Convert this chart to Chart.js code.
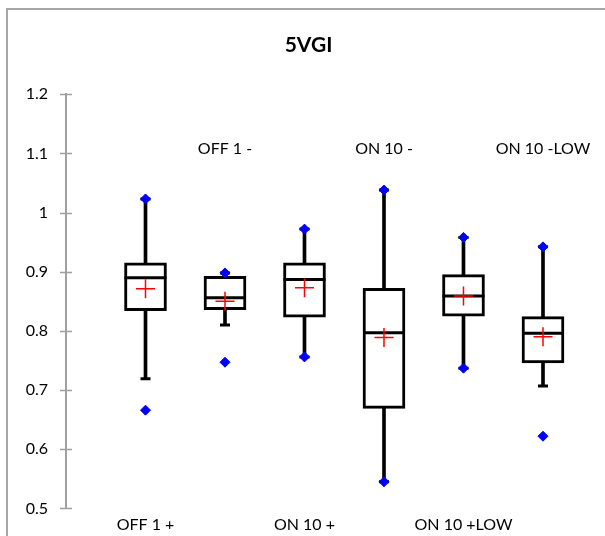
<!DOCTYPE html>
<html>
<head>
<meta charset="utf-8">
<script src="https://cdn.jsdelivr.net/npm/chart.js@4.4.1/dist/chart.umd.min.js"></script>
<style>
  html, body { margin: 0; padding: 0; background: #fff; overflow: hidden; }
  #wrap { width: 605px; height: 536px; }
</style>
</head>
<body>
<div id="wrap"><canvas id="boxChart" width="605" height="536"></canvas></div>
<script>
const categories = ['OFF 1 +', 'OFF 1 -', 'ON 10 +', 'ON 10 -', 'ON 10 +LOW', 'ON 10 -LOW'];
const maxVals     = [1.023, 0.898, 0.972, 1.038, 0.958, 0.942];
const q3Vals      = [0.915, 0.892, 0.915, 0.872, 0.895, 0.824];
const medianVals  = [0.890, 0.856, 0.887, 0.797, 0.859, 0.796];
const meanVals    = [0.871, 0.850, 0.873, 0.789, 0.859, 0.790];
const q1Vals      = [0.834, 0.836, 0.823, 0.669, 0.825, 0.746];
const whiskerLow  = [0.719, 0.810, 0.756, 0.545, 0.737, 0.707];
const whiskerHigh = [1.023, 0.898, 0.972, 1.038, 0.958, 0.942];
const minVals     = [0.666, 0.747, 0.756, 0.545, 0.737, 0.622];
const yTicks = [0.5, 0.6, 0.7, 0.8, 0.9, 1, 1.1, 1.2];
const labelLevel = 1.107; // height of the in-plot category names

const FONT = 'Lato, "Open Sans", sans-serif';
const pos = categories.map((c, i) => i + 1);
const pts = vals => vals.map((v, i) => ({ x: pos[i], y: v }));
const spans = (lo, hi) => lo.map((v, i) => ({ x: pos[i], y: [v, hi[i]] }));

// grey frame, cross ticks on the y axis, alternate category names inside the plot
const extras = {
  id: 'extras',
  beforeDraw(chart) {
    const ctx = chart.ctx;
    ctx.save();
    ctx.strokeStyle = '#a6a6a6';
    ctx.lineWidth = 2;
    ctx.strokeRect(7, 9, 800, 800);
    ctx.restore();
  },
  afterDraw(chart) {
    const { ctx, scales: { x, y } } = chart;
    ctx.save();
    ctx.strokeStyle = '#a0a0a0';
    ctx.lineWidth = 1.5;
    ctx.beginPath();
    yTicks.forEach(t => {
      const py = Math.round(y.getPixelForValue(t)) + 0.5;
      ctx.moveTo(x.left - 6, py);
      ctx.lineTo(x.left + 6, py);
    });
    ctx.stroke();
    ctx.fillStyle = '#000';
    ctx.font = '16px ' + FONT;
    ctx.textAlign = 'center';
    ctx.textBaseline = 'middle';
    categories.forEach((c, i) => {
      if (i % 2 === 1) ctx.fillText(c, x.getPixelForValue(pos[i]), y.getPixelForValue(labelLevel));
    });
    ctx.restore();
  }
};

new Chart(document.getElementById('boxChart'), {
  type: 'bar',
  data: {
    datasets: [
      { // whiskers
        data: spans(whiskerLow, whiskerHigh),
        backgroundColor: '#000', barThickness: 3, grouped: false, order: 5
      },
      { // boxes
        data: spans(q1Vals, q3Vals),
        backgroundColor: '#fff', borderColor: '#000', borderWidth: 3,
        borderSkipped: false, barThickness: 42, grouped: false, order: 4
      },
      {
        type: 'scatter', data: pts(medianVals),
        pointStyle: 'line', pointRadius: 21, borderColor: '#000', borderWidth: 3, order: 3
      },
      {
        type: 'scatter', data: pts(whiskerLow).concat(pts(whiskerHigh)),
        pointStyle: 'line', pointRadius: 5, borderColor: '#000', borderWidth: 3, order: 3
      },
      {
        type: 'scatter', data: pts(meanVals),
        pointStyle: 'cross', pointRadius: 9.5, borderColor: '#ff0000', borderWidth: 1.5, order: 2
      },
      {
        type: 'scatter', data: pts(maxVals).concat(pts(minVals)),
        pointStyle: 'rectRot', pointRadius: 5, backgroundColor: '#0000ff', borderColor: '#0000ff',
        borderWidth: 1, order: 1
      }
    ]
  },
  options: {
    responsive: false,
    animation: false,
    layout: { autoPadding: false, padding: { left: 12, right: 0, top: 0, bottom: 0 } },
    plugins: {
      legend: { display: false },
      tooltip: { enabled: false },
      title: {
        display: true,
        text: '5VGI',
        color: '#000',
        font: { family: FONT, size: 21, weight: 'bold' },
        padding: { top: 33, bottom: 36 }
      }
    },
    scales: {
      x: {
        type: 'linear',
        min: 0,
        max: 6.78,
        offset: false,
        grid: { display: false, drawTicks: false, offset: false },
        border: { display: false },
        afterBuildTicks: s => { s.ticks = pos.filter((p, i) => i % 2 === 0).map(v => ({ value: v })); },
        afterFit: s => { s.height = 27; s.paddingLeft = 0; s.paddingRight = 0; },
        ticks: {
          color: '#000',
          font: { family: FONT, size: 16 },
          padding: 7,
          maxRotation: 0,
          autoSkip: false,
          callback: v => categories[v - 1]
        }
      },
      y: {
        min: 0.5,
        max: 1.2,
        grid: { display: false, drawTicks: false },
        border: { color: '#a0a0a0', width: 2 },
        afterBuildTicks: s => { s.ticks = yTicks.map(v => ({ value: v })); },
        afterFit: s => { s.width = 54; },
        ticks: {
          color: '#000',
          font: { family: FONT, size: 16 },
          padding: 18,
          callback: v => String(v)
        }
      }
    }
  },
  plugins: [extras]
});
</script>
</body>
</html>
